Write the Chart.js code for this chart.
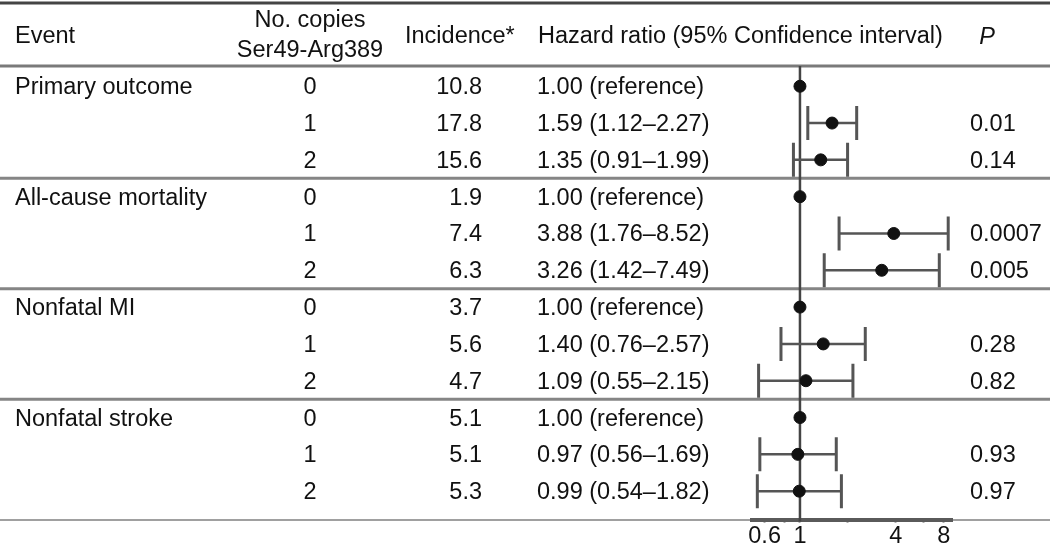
<!DOCTYPE html>
<html>
<head>
<meta charset="utf-8">
<script src="https://cdn.jsdelivr.net/npm/chart.js@4"></script>
<style>
  body { margin: 0; background: #fff; }
  #wrap { width: 1050px; height: 552px; position: relative; }
</style>
</head>
<body>
<div id="wrap"><canvas id="forest"></canvas></div>
<script>
const events = ['Primary outcome', 'All-cause mortality', 'Nonfatal MI', 'Nonfatal stroke'];
const copies = [0, 1, 2];
const incidence = [10.8, 17.8, 15.6, 1.9, 7.4, 6.3, 3.7, 5.6, 4.7, 5.1, 5.1, 5.3];
const hazardRatio = [1.00, 1.59, 1.35, 1.00, 3.88, 3.26, 1.00, 1.40, 1.09, 1.00, 0.97, 0.99];
const ciLower = [null, 1.12, 0.91, null, 1.76, 1.42, null, 0.76, 0.55, null, 0.56, 0.54];
const ciUpper = [null, 2.27, 1.99, null, 8.52, 7.49, null, 2.57, 2.15, null, 1.69, 1.82];
const pValues = ['', '0.01', '0.14', '', '0.0007', '0.005', '', '0.28', '0.82', '', '0.93', '0.97'];
const xTicks = [0.6, 0.8, 1, 2, 4, 6, 8];
const xTickLabels = [0.6, 1, 4, 8];

const FONT = "'Liberation Sans', Arial, Helvetica, sans-serif";
const FONT_SIZE = 23.5;

function text(ctx, str, x, y, align, italic) {
    ctx.save();
    ctx.font = (italic ? 'italic ' : '') + FONT_SIZE + 'px ' + FONT;
    ctx.fillStyle = '#111';
    ctx.textAlign = align;
    ctx.textBaseline = 'middle';
    ctx.fillText(str, x, y);
    ctx.restore();
}

function hLine(ctx, y, width, color, x0, x1) {
    ctx.save();
    ctx.strokeStyle = color;
    ctx.lineWidth = width;
    ctx.beginPath();
    ctx.moveTo(x0, y);
    ctx.lineTo(x1, y);
    ctx.stroke();
    ctx.restore();
}

function hrLabel(i) {
    if (ciLower[i] === null) return hazardRatio[i].toFixed(2) + ' (reference)';
    return hazardRatio[i].toFixed(2) + ' (' + ciLower[i].toFixed(2) + '\u2013' + ciUpper[i].toFixed(2) + ')';
}

const tablePlugin = {
    id: 'tablePlugin',
    beforeDraw(chart) {
        const ctx = chart.ctx;
        // bottom rule sits under the axis bar
        hLine(ctx, 520, 2, '#a0a0a0', 0, chart.width);
    },
    beforeDatasetsDraw(chart) {
        const ctx = chart.ctx;
        const xs = chart.scales.x;
        const ys = chart.scales.y;
        const W = chart.width;

        // rules
        hLine(ctx, 3, 3, '#444', 0, W);
        hLine(ctx, 66, 3, '#7a7a7a', 0, W);
        [2.5, 5.5, 8.5].forEach(v => hLine(ctx, ys.getPixelForValue(v), 3, '#858585', 0, W));

        // header
        text(ctx, 'Event', 15, 37, 'left');
        text(ctx, 'No. copies', 310, 21, 'center');
        text(ctx, 'Ser49-Arg389', 310, 51, 'center');
        text(ctx, 'Incidence*', 405, 37, 'left');
        text(ctx, 'Hazard ratio (95% Confidence interval)', 538, 37, 'left');
        text(ctx, 'P', 987, 37, 'center', true);

        // body rows
        hazardRatio.forEach((v, i) => {
            const y = ys.getPixelForValue(i) + 1.5;
            if (i % 3 === 0) text(ctx, events[i / 3], 15, y, 'left');
            text(ctx, String(copies[i % 3]), 310, y, 'center');
            text(ctx, incidence[i].toFixed(1), 482, y, 'right');
            text(ctx, hrLabel(i), 537, y, 'left');
            if (pValues[i]) text(ctx, pValues[i], 970, y, 'left');
        });

        // reference line at HR = 1
        const x1 = xs.getPixelForValue(1);
        ctx.save();
        ctx.strokeStyle = '#444';
        ctx.lineWidth = 2.5;
        ctx.beginPath();
        ctx.moveTo(x1, 66);
        ctx.lineTo(x1, chart.chartArea.bottom + 2);
        ctx.stroke();
        ctx.restore();

        // confidence intervals
        ctx.save();
        ctx.strokeStyle = '#555';
        hazardRatio.forEach((v, i) => {
            if (ciLower[i] === null) return;
            const y = ys.getPixelForValue(i);
            const a = xs.getPixelForValue(ciLower[i]);
            const b = xs.getPixelForValue(ciUpper[i]);
            ctx.lineWidth = 2.5;
            ctx.beginPath();
            ctx.moveTo(a, y);
            ctx.lineTo(b, y);
            ctx.stroke();
            ctx.lineWidth = 3;
            ctx.beginPath();
            ctx.moveTo(a, y - 17);
            ctx.lineTo(a, y + 17);
            ctx.moveTo(b, y - 17);
            ctx.lineTo(b, y + 17);
            ctx.stroke();
        });
        ctx.restore();
    }
};

new Chart(document.getElementById('forest'), {
    type: 'scatter',
    data: {
        datasets: [{
            data: hazardRatio.map((v, i) => ({ x: v, y: i })),
            backgroundColor: '#111',
            borderColor: '#111',
            pointRadius: 6,
            pointHoverRadius: 6,
            clip: false
        }]
    },
    options: {
        responsive: true,
        maintainAspectRatio: false,
        animation: false,
        events: [],
        layout: {
            padding: { left: 752, right: 98, top: 66, bottom: 2 }
        },
        scales: {
            x: {
                type: 'logarithmic',
                min: 0.5,
                max: 9,
                afterBuildTicks: scale => {
                    scale.ticks = xTicks.map(v => ({ value: v }));
                },
                ticks: {
                    autoSkip: false,
                    maxRotation: 0,
                    padding: 2,
                    color: '#111',
                    font: { family: FONT, size: FONT_SIZE, lineHeight: 1.0 },
                    callback: value => xTickLabels.includes(value) ? String(value) : ''
                },
                grid: {
                    drawOnChartArea: false,
                    drawTicks: true,
                    tickLength: 3,
                    tickWidth: 2,
                    tickColor: '#555'
                },
                border: { display: true, color: '#5a5a5a', width: 4 }
            },
            y: {
                type: 'linear',
                display: false,
                reverse: true,
                min: -0.55,
                max: 11.77
            }
        },
        plugins: {
            legend: { display: false },
            tooltip: { enabled: false }
        }
    },
    plugins: [tablePlugin]
});
</script>
</body>
</html>
